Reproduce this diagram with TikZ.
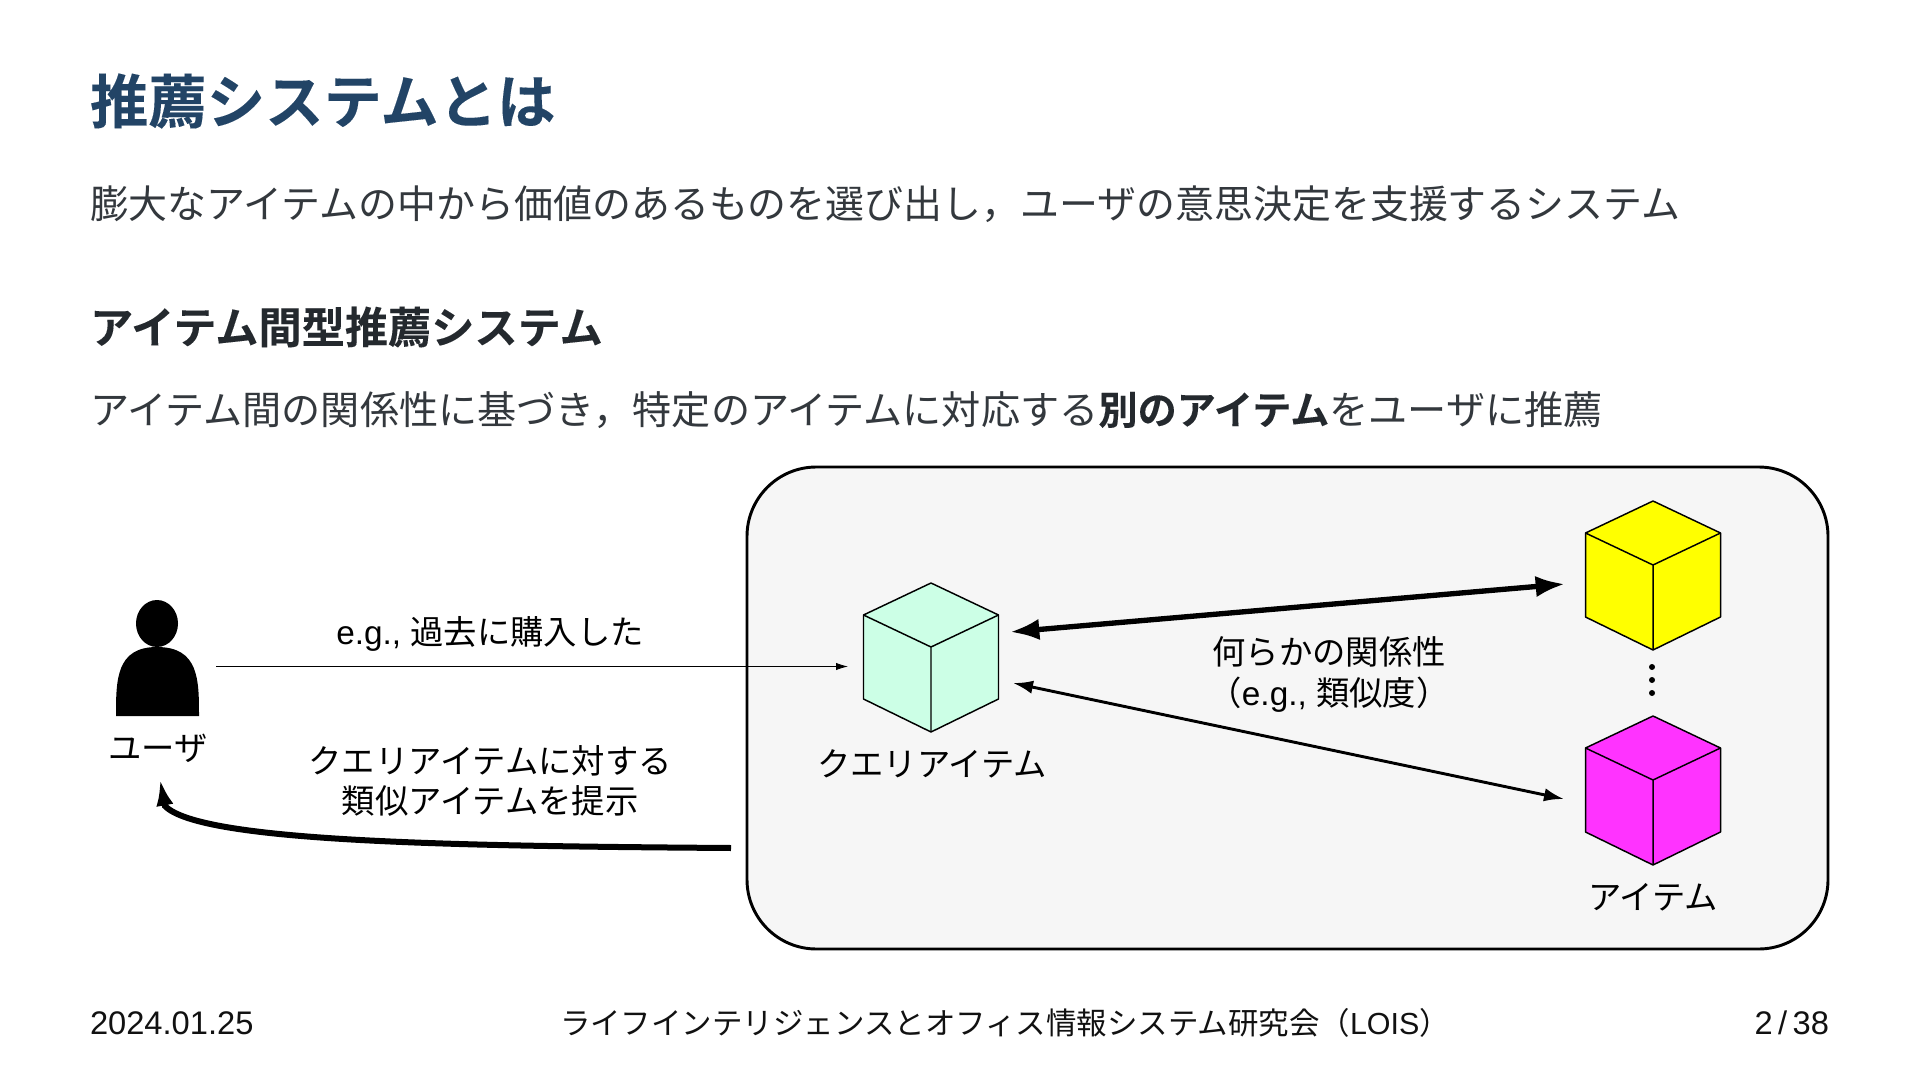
\documentclass[tikz,border=0pt]{standalone}
\usepackage{fontspec}
\setmainfont{Liberation Sans}
\newfontfamily\cjk{Noto Sans CJK JP}
\newfontfamily\cjkb[FakeBold=0.12]{Noto Sans CJK JP Bold}
\newfontfamily\latn{Liberation Sans}
\definecolor{titleblue}{HTML}{224466}
\definecolor{bodygrey}{HTML}{33383D}
\definecolor{headdark}{HTML}{24292E}
\definecolor{footblack}{HTML}{111111}
\definecolor{panelgrey}{HTML}{F6F6F6}
\definecolor{querymint}{HTML}{CCFFE6}
\definecolor{itemyellow}{HTML}{FFFF00}
\definecolor{itemmagenta}{HTML}{FF33FF}
\usetikzlibrary{arrows.meta}
\newcommand{\fsz}[1]{\fontsize{#1}{#1}\selectfont}
\newcommand{\cube}[4]{% name, centre x, top y, colour
  \begin{scope}[shift={(#2,#3)}]
    \draw[cubeedge,fill=#4] (0,0) -- (67.5,32) -- (67.5,116) -- (0,149) -- (-67.5,116) -- (-67.5,32) -- cycle;
    \draw[cubeedge] (-67.5,32) -- (0,64) -- (67.5,32) (0,64) -- (0,149);
  \end{scope}}
\tikzset{
  x=0.75pt,y=-0.75pt,
  cubeedge/.style={draw=black,line width=1.1pt,line join=round},
  lefttext/.style={anchor=west,inner sep=0pt,outer sep=0pt},
  lab/.style={anchor=center,inner sep=0pt,outer sep=0pt,align=center,text=black,font=\fsz{25}\cjk},
  foot/.style={inner sep=0pt,outer sep=0pt,text=footblack,font=\fsz{24.5}\latn},
  thinarrow/.style={draw=black,line width=0.6pt,-{Latex[length=9pt,width=5.5pt]}},
  dot/.style={fill=black,circle,inner sep=0pt,minimum size=4.5pt},
}
\begin{document}
\begin{tikzpicture}
\useasboundingbox (0,0) rectangle (1920,1080);
\fill[white] (0,0) rectangle (1920,1080);
\node[lefttext,text=titleblue,font=\fsz{43.8}\cjkb] (title) at (90,101) {推薦システムとは};
\node[lefttext,text=bodygrey,font=\fsz{29.2}\cjk] (intro) at (90,204) {膨大なアイテムの中から価値のあるものを選び出し，ユーザの意思決定を支援するシステム};
\node[lefttext,text=headdark,font=\fsz{32.4}\cjkb] (head) at (90,327) {アイテム間型推薦システム};
\node[lefttext,text=bodygrey,font=\fsz{29.35}\cjk] (desc) at (90,410) {アイテム間の関係性に基づき，特定のアイテムに対応する{\cjkb\color{headdark}別のアイテム}をユーザに推薦};

\draw[draw=black,line width=2.2pt,fill=panelgrey,rounded corners=52pt] (747,467) rectangle (1828,949);

\cube{query}{931}{583}{querymint}
\cube{itemA}{1653}{501}{itemyellow}
\cube{itemB}{1653}{716}{itemmagenta}
\node[dot] (d1) at (1652,667) {};
\node[dot] (d2) at (1652,680) {};
\node[dot] (d3) at (1652,693) {};

% user
\fill[black] (157,623.5) ellipse (21 and 23.5);
\fill[black] (116,716) .. controls (116,680) and (116,647) .. (157,647) .. controls (199,647) and (199,680) .. (199,716) -- cycle;
\coordinate (userout) at (216,666.5);
\coordinate (queryin) at (848,666.5);
\coordinate (panelout) at (731,848);
\coordinate (userbend) at (165,806);
\coordinate (userin) at (160,779);
\node[lab] (ulab) at (158,748) {ユーザ};

\node[lab] (l1) at (490,634) {{\latn e.g., }過去に購入した};
\draw[thinarrow] (userout) -- (queryin);
\node[lab] (l2) at (490,780.5) {クエリアイテムに対する\\[5pt]類似アイテムを提示};
\draw[line width=4.5pt,-{Latex[length=20pt,width=13pt]}] (panelout) .. controls (450,846) and (200,842) .. (userbend) -- (userin);

\node[lab] (qlab) at (932,764) {クエリアイテム};
\node[lab] (ilab) at (1653,897) {アイテム};
\node[lab] (rlab) at (1329,674.5) {何らかの関係性\\[5.5pt]（{\latn e.g., }類似度）};

\coordinate (a1) at (1010,632);
\coordinate (a2) at (1565,584);
\coordinate (b1) at (1013,683);
\coordinate (b2) at (1564,799);
\draw[line width=4pt,{Latex[length=22pt,width=16pt]}-{Latex[length=22pt,width=16pt]}] (a1) -- (a2);
\draw[line width=2.2pt,{Latex[length=15pt,width=10pt]}-{Latex[length=15pt,width=10pt]}] (b1) -- (b2);

\node[foot,anchor=west] (f1) at (90,1023) {2024.01.25};
\node[foot,anchor=center,font=\fsz{22.85}\cjk] (f2) at (1005,1023) {ライフインテリジェンスとオフィス情報システム研究会（{\latn LOIS}）};
\node[foot,anchor=east] (f3) at (1829,1023) {2\,/\,38};
\end{tikzpicture}
\end{document}
